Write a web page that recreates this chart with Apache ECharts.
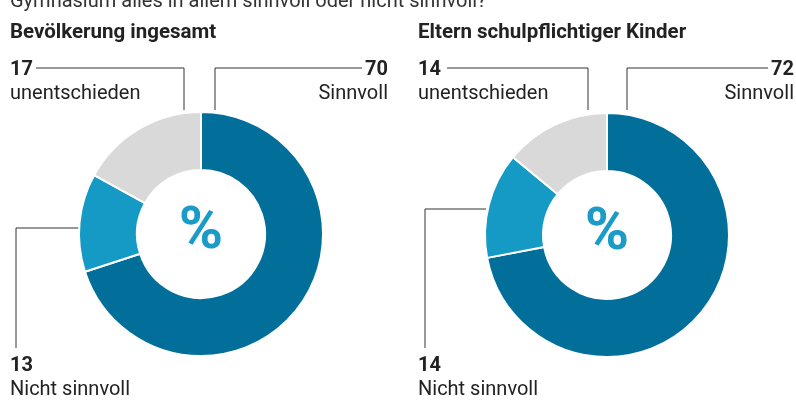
<!DOCTYPE html>
<html>
<head>
<meta charset="utf-8">
<script src="https://cdn.jsdelivr.net/npm/echarts@6/dist/echarts.min.js"></script>
<style>
html,body{margin:0;padding:0;background:#fff;}
#chart{width:796px;height:401px;}
</style>
</head>
<body>
<div id="chart"></div>
<script>
// ---- data ----
const question = 'Gymnasium alles in allem sinnvoll oder nicht sinnvoll?';
const groupTitles = ['Bevölkerung ingesamt', 'Eltern schulpflichtiger Kinder'];
const categories = ['Sinnvoll', 'Nicht sinnvoll', 'unentschieden'];
const bevoelkerung = [70, 13, 17];
const eltern = [72, 14, 14];
const centerSymbol = '%';

// ---- styles / layout ----
const colors = ['#026f9a', '#149ac5', '#d9d9d9'];
const FONT = 'Roboto, "Liberation Sans", sans-serif';
const TEXT = '#222';
const pies = [
  { center: [201, 234], titleX: 10 },
  { center: [607, 235], titleX: 418 }
];
// label anchor and leader line per series / slice
const labelPos = [
  [
    { x: 388, y: 58, align: 'right', pts: [[215, 110], [215, 68], [362, 68]] },
    { x: 10, y: 354, align: 'left', pts: [[81, 228], [16, 228], [16, 348]] },
    { x: 10, y: 58, align: 'left', pts: [[184, 110], [184, 68], [36, 68]] }
  ],
  [
    { x: 794, y: 58, align: 'right', pts: [[627, 110], [627, 68], [768, 68]] },
    { x: 418, y: 354, align: 'left', pts: [[486, 209], [425, 209], [425, 348]] },
    { x: 418, y: 58, align: 'left', pts: [[588, 110], [588, 68], [447, 68]] }
  ]
];

function makeSeries(values, idx) {
  return {
    type: 'pie',
    center: pies[idx].center,
    radius: [64, 122],
    startAngle: 90,
    clockwise: true,
    avoidLabelOverlap: false,
    silent: true,
    itemStyle: { borderColor: '#fff', borderWidth: 2 },
    label: {
      show: true,
      position: 'outside',
      formatter: '{v|{c}}\n{n|{b}}',
      rich: {
        v: { fontFamily: FONT, fontSize: 20, fontWeight: 'bold', color: TEXT, lineHeight: 24 },
        n: { fontFamily: FONT, fontSize: 20, color: TEXT, lineHeight: 24 }
      }
    },
    labelLine: { show: true, smooth: false, lineStyle: { color: '#333', width: 1 } },
    labelLayout: function (p) {
      const lp = labelPos[idx][p.dataIndex];
      return {
        x: lp.x, y: lp.y, align: lp.align, verticalAlign: 'top',
        labelLinePoints: lp.pts
      };
    },
    data: categories.map((c, i) => ({ name: c, value: values[i], itemStyle: { color: colors[i] } }))
  };
}

const chart = echarts.init(document.getElementById('chart'), null, { renderer: 'canvas' });
const graphics = [
  { type: 'text', left: 10, top: -8, style: { text: question, font: '20px ' + FONT, fill: '#333' } }
];
pies.forEach((p, i) => {
  graphics.push({ type: 'text', left: p.titleX, top: 22, style: { text: groupTitles[i], font: 'bold 20.5px ' + FONT, fill: TEXT } });
  graphics.push({ type: 'text', x: p.center[0], y: p.center[1] - 1, style: { text: centerSymbol, font: 'bold 60px ' + FONT, fill: '#1a9bc8', align: 'center', verticalAlign: 'middle' } });
});

chart.setOption({
  animation: false,
  backgroundColor: '#fff',
  graphic: graphics,
  series: [makeSeries(bevoelkerung, 0), makeSeries(eltern, 1)]
});
</script>
</body>
</html>
